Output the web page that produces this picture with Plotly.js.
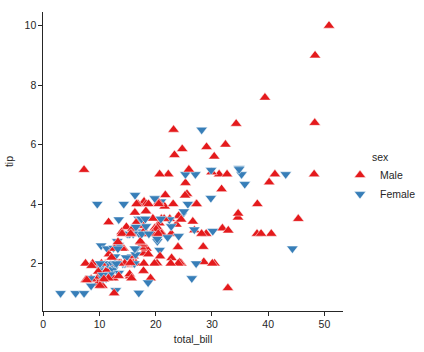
<!DOCTYPE html>
<html><head><meta charset="utf-8">
<script src="https://cdn.plot.ly/plotly-3.0.1.min.js"></script>
<style>html,body{margin:0;padding:0;background:#fff}#chart{width:424px;height:352px}</style>
</head><body><div id="chart"></div>
<script>
const totalBill = [16.99,10.34,21.01,23.68,24.59,25.29,8.77,26.88,15.04,14.78,10.27,35.26,15.42,18.43,14.83,21.58,10.33,16.29,16.97,20.65,17.92,20.29,15.77,39.42,19.82,17.81,13.37,12.69,21.7,19.65,9.55,18.35,15.06,20.69,17.78,24.06,16.31,16.93,18.69,31.27,16.04,17.46,13.94,9.68,30.4,18.29,22.23,32.4,28.55,18.04,12.54,10.29,34.81,9.94,25.56,19.49,38.01,26.41,11.24,48.27,20.29,13.81,11.02,18.29,17.59,20.08,16.45,3.07,20.23,15.01,12.02,17.07,26.86,25.28,14.73,10.51,17.92,27.2,22.76,17.29,19.44,16.66,10.07,32.68,15.98,34.83,13.03,18.28,24.71,21.16,28.97,22.49,5.75,16.32,22.75,40.17,27.28,12.03,21.01,12.46,11.35,15.38,44.3,22.42,20.92,15.36,20.49,25.21,18.24,14.31,14.0,7.25,38.07,23.95,25.71,17.31,29.93,10.65,12.43,24.08,11.69,13.42,14.26,15.95,12.48,29.8,8.52,14.52,11.38,22.82,19.08,20.27,11.17,12.26,18.26,8.51,10.33,14.15,16.0,13.16,17.47,34.3,41.19,27.05,16.43,8.35,18.64,11.87,9.78,7.51,14.07,13.13,17.26,24.55,19.77,29.85,48.17,25.0,13.39,16.49,21.5,12.66,16.21,13.81,17.51,24.52,20.76,31.71,10.59,10.63,50.81,15.81,7.25,31.85,16.82,32.9,17.89,14.48,9.6,34.63,34.65,23.33,45.35,23.17,40.55,20.69,20.9,30.46,18.15,23.1,15.69,19.81,28.44,15.48,16.58,7.56,10.34,43.11,13.0,13.51,18.71,12.74,13.0,16.4,20.53,16.47,26.59,38.73,24.27,12.76,30.06,25.89,48.33,13.27,28.17,12.9,28.15,11.59,7.74,30.14,12.16,13.42,8.58,15.98,13.42,16.27,10.09,20.45,13.28,22.12,24.01,15.69,11.61,10.77,15.53,10.07,12.6,32.83,35.83,29.03,27.18,22.67,17.82,18.78];
const tip = [1.01,1.66,3.5,3.31,3.61,4.71,2.0,3.12,1.96,3.23,1.71,5.0,1.57,3.0,3.02,3.92,1.67,3.71,3.5,3.35,4.08,2.75,2.23,7.58,3.18,2.34,2.0,2.0,4.3,3.0,1.45,2.5,3.0,2.45,3.27,3.6,2.0,3.07,2.31,5.0,2.24,2.54,3.06,1.32,5.6,3.0,5.0,6.0,2.05,3.0,2.5,2.6,5.2,1.56,4.34,3.51,3.0,1.5,1.76,6.73,3.21,2.0,1.98,3.76,2.64,3.15,2.47,1.0,2.01,2.09,1.97,3.0,3.14,5.0,2.2,1.25,3.08,4.0,3.0,2.71,3.0,3.4,1.83,5.0,2.03,5.17,2.0,4.0,5.85,3.0,3.0,3.5,1.0,4.3,3.25,4.73,4.0,1.5,3.0,1.5,2.5,3.0,2.5,3.48,4.08,1.64,4.06,4.29,3.76,4.0,3.0,1.0,4.0,2.55,4.0,3.5,5.07,1.5,1.8,2.92,2.31,1.68,2.5,2.0,2.52,4.2,1.48,2.0,2.0,2.18,1.5,2.83,1.5,2.0,3.25,1.25,2.0,2.0,2.0,2.75,3.5,6.7,5.0,5.0,2.3,1.5,1.36,1.63,1.73,2.0,2.5,2.0,2.74,2.0,2.0,5.14,5.0,3.75,2.61,2.0,3.5,2.5,2.0,2.0,3.0,3.48,2.24,4.5,1.61,2.0,10.0,3.16,5.15,3.18,4.0,3.11,2.0,2.0,4.0,3.55,3.68,5.65,3.5,6.5,3.0,5.0,3.5,2.0,3.5,4.0,1.5,4.19,2.56,2.02,4.0,1.44,2.0,5.0,2.0,2.0,4.0,2.01,2.0,2.5,4.0,3.23,3.41,3.0,2.03,2.23,2.0,5.16,9.0,2.5,6.5,1.1,3.0,1.5,1.44,3.09,2.2,3.48,1.92,3.0,1.58,2.5,2.0,3.0,2.72,2.88,2.0,3.0,3.39,1.47,3.0,1.25,1.0,1.17,4.67,5.92,2.0,2.0,1.75,3.0];
// one letter per row, in groups of ten rows: M = Male, F = Female
const sexCodes = ["FMMMFMMMMM","MFMMFMFMFM","MFFMMMMMMF","MMFFMMMFMM","MMMMMMMMMM",
                  "MFFMMMMFMM","MMMMMMFFMM","MFFFFMMMMM","MMFMMFMMMM","MMFFFMMMMM",
                  "FFFFFMMMMF","MFMMFFMFFF","MFMMFFMFFM","MFFFFFFFMF","FMMFFFFFMM",
                  "MMMMMFMFFM","MMFMFMMMFF","MMMMMMMMFM","MMMMMMFMFM","MFMMMMMFFM",
                  "MFFFMFMMMF","MMMFFFMMMF","MFMFMFFMMF","MMMMMMMMFM","FMMF"].join("");
const sex = sexCodes.split("").map(c => c === "M" ? "Male" : "Female");
const categories = ["Male", "Female"];
const palette = {Male: "#e41a1c", Female: "#377eb8"};
const symbols = {Male: "triangle-up", Female: "triangle-down"};

const traces = [{
  type: "scatter", mode: "markers", x: totalBill, y: tip, showlegend: false,
  marker: {size: 10, color: sex.map(s => palette[s]), symbol: sex.map(s => symbols[s]),
           line: {color: "#ffffff", width: 0.5}},
  hoverinfo: "x+y"
}];
categories.forEach(c => traces.push({
  type: "scatter", mode: "markers", x: [null], y: [null], name: c,
  marker: {size: 10, color: palette[c], symbol: symbols[c], line: {color: "#ffffff", width: 0.5}}
}));

const axisCommon = {
  showgrid: false, zeroline: false, showline: true, linecolor: "#262626", linewidth: 1.1,
  ticks: "outside", ticklen: 3.5, tickwidth: 1, tickcolor: "#262626",
  tickfont: {family: "Liberation Sans, Arial, sans-serif", size: 10.5, color: "#262626"}
};
const layout = {
  width: 424, height: 352,
  margin: {l: 43, r: 81, t: 12, b: 41, autoexpand: false},
  paper_bgcolor: "#fff", plot_bgcolor: "#fff",
  font: {family: "Liberation Sans, Arial, sans-serif", color: "#262626", size: 10.5},
  xaxis: Object.assign({}, axisCommon, {range: [-0.05, 53.3], tickvals: [0,10,20,30,40,50],
    title: {text: "total_bill", font: {size: 10.5, color: "#262626"}, standoff: 6}}),
  yaxis: Object.assign({}, axisCommon, {range: [0.4, 10.46], tickvals: [2,4,6,8,10],
    title: {text: "tip", font: {size: 10.5, color: "#262626"}, standoff: 8}}),
  legend: {x: 0.99, y: 0.445, xanchor: "left", yanchor: "middle", bgcolor: "rgba(0,0,0,0)",
    title: {text: "sex", side: "top center", font: {size: 10.5, color: "#262626"}},
    font: {size: 10.5, color: "#262626"}, itemwidth: 30, tracegroupgap: 0}
};
Plotly.newPlot("chart", traces, layout, {displayModeBar: false, staticPlot: true});
</script></body></html>
